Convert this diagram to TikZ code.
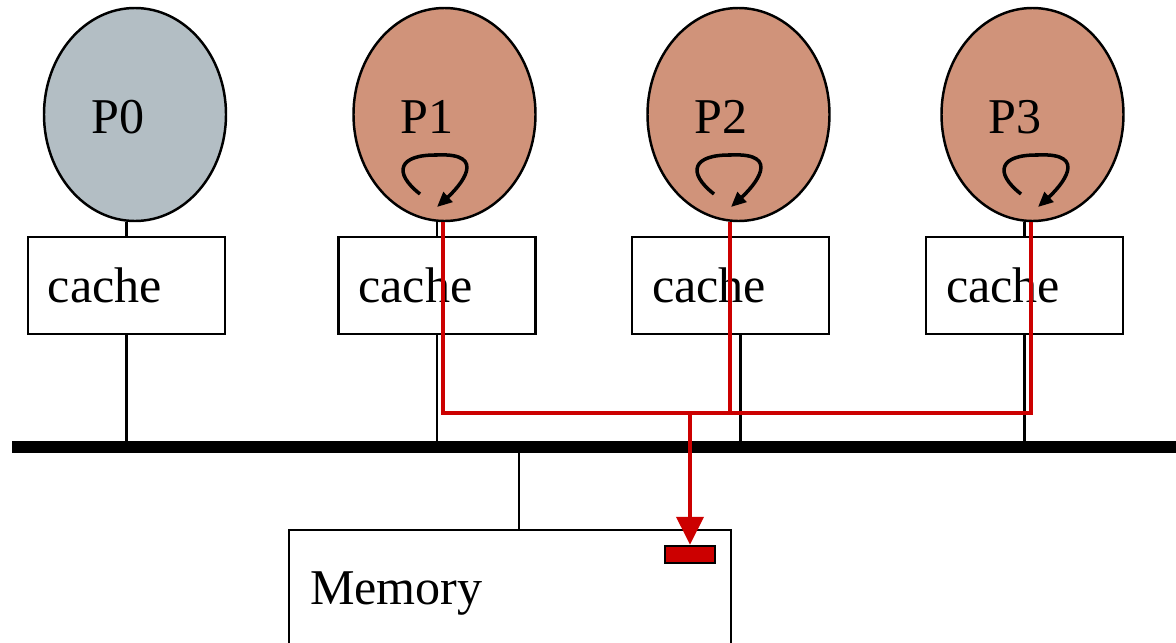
\documentclass[tikz,border=0pt]{standalone}
\usepackage{fontspec}
\setmainfont{Liberation Serif}
\usetikzlibrary{shapes.geometric, arrows.meta}

\definecolor{idlegray}{HTML}{B3BEC4}
\definecolor{busyclay}{HTML}{D0937A}
\definecolor{wirered}{HTML}{CC0000}

\begin{document}
\begin{tikzpicture}[x=0.2mm, y=-0.2mm, line width=1.4pt,
        every node/.style={font=\fontsize{28.5}{34}\selectfont},
        proc/.style={ellipse, draw, minimum width=36.4mm,
                     minimum height=42.6mm, inner sep=0pt},
        cachebox/.style={rectangle, draw, fill=white, minimum height=19.4mm,
                         text width=31.4mm, inner xsep=4mm, align=left},
        whirl/.style={line width=2pt, -{Triangle[length=3mm, width=2.6mm]}},
        writeback/.style={wirered, line width=2.2pt}]
      \useasboundingbox (0,0) rectangle (1176,643);

      % processors
      \node[proc, fill=idlegray] (p0) at (135, 114.5)  {};
      \node[proc, fill=busyclay] (p1) at (444.5, 114.5) {};
      \node[proc, fill=busyclay] (p2) at (738.5, 114.5) {};
      \node[proc, fill=busyclay] (p3) at (1032.5,114.5) {};
      \node (t0) at (118, 117)  {P0};
      \node (t1) at (427, 117)  {P1};
      \node (t2) at (721, 117)  {P2};
      \node (t3) at (1015, 117) {P3};

      % caches
      \node[cachebox] (c0) at (126.5, 285.5)  {cache};
      \node[cachebox] (c1) at (437, 285.5)    {cache};
      \node[cachebox] (c2) at (730.5, 285.5)  {cache};
      \node[cachebox] (c3) at (1024.5, 285.5) {cache};

      % memory
      \node[rectangle, draw, minimum height=25.6mm, text width=80mm,
            inner xsep=4.2mm, align=left] (mem) at (510, 594) {Memory};
      \node[rectangle, draw=black, fill=wirered, minimum width=10mm,
            minimum height=3.4mm, inner sep=0pt] (cell) at (690, 554.5) {};

      % bus
      \coordinate (busL) at (12, 447);
      \coordinate (busR) at (1176, 447);
      \coordinate (busM) at (519, 447);
      \coordinate (join) at (690, 413);
      \draw[line width=2.4mm] (busL) -- (busR);

      \draw (c0.north) -- (c0.north |- p0.south);
      \draw (c1.north) -- (c1.north |- p1.south);
      \draw (c2.north) -- (c2.north |- p2.south);
      \draw (c3.north) -- (c3.north |- p3.south);
      \draw (c0.south) -- (c0.south |- busL);
      \draw (c1.south) -- (c1.south |- busL);
      \draw ([xshift=2mm]c2.south) -- ([xshift=2mm]c2.south |- busL);
      \draw (c3.south) -- (c3.south |- busL);
      \draw (busM) -- (busM |- mem.north);

      % spinning
      \draw[whirl, shift={(p1.center)}] (-24.5,79.5)
            .. controls (-52,58) and (-46,40) .. (-7.5,40.5)
            .. controls (45,38) and (15,72) .. (-7.5,92.5);
      \draw[whirl, shift={(p2.center)}] (-24.5,79.5)
            .. controls (-52,58) and (-46,40) .. (-7.5,40.5)
            .. controls (45,38) and (15,72) .. (-7.5,92.5);
      \draw[whirl, shift={(p3.center)}, xshift=2.6mm] (-24.5,79.5)
            .. controls (-52,58) and (-46,40) .. (-7.5,40.5)
            .. controls (45,38) and (15,72) .. (-7.5,92.5);

      % write traffic
      \draw[writeback] ([xshift=-0.3mm]p1.south) |- (join);
      \draw[writeback] ([xshift=-1.7mm]p2.south) |- (join);
      \draw[writeback] ([xshift=-0.3mm]p3.south) |- (join);
      \draw[writeback, -{Triangle[length=5.6mm, width=5.4mm]}] (join) -- (cell.north);
    \end{tikzpicture}
\end{document}
